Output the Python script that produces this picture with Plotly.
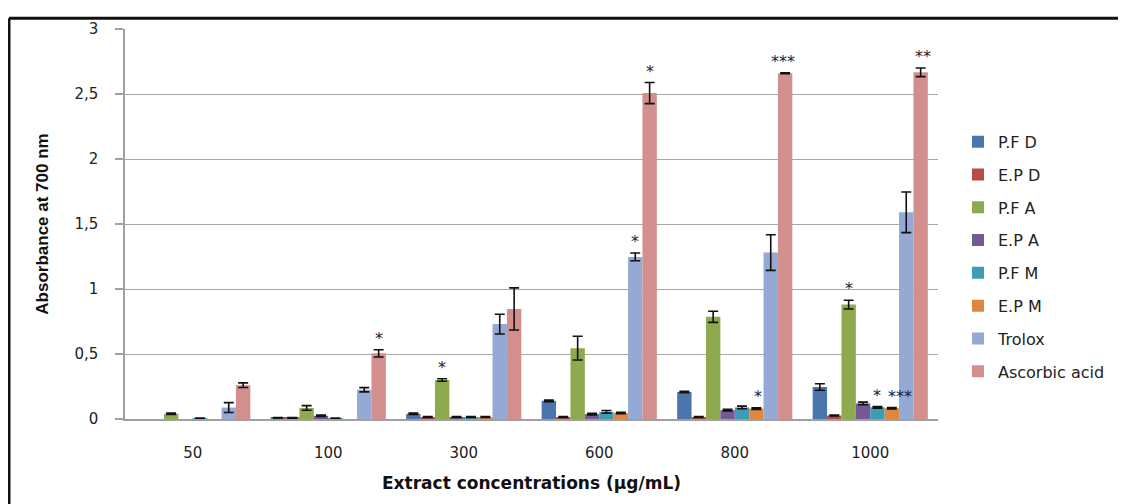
import plotly.graph_objects as go

categories = ["50", "100", "300", "600", "800", "1000"]
series_names = ["P.F D", "E.P D", "P.F A", "E.P A", "P.F M", "E.P M", "Trolox", "Ascorbic acid"]
colors = ["#4A76AC", "#B84B47", "#8DAA4F", "#735A95", "#3F9CB6", "#E0873F", "#94A9D3", "#D38F8E"]

# None = no visible bar in the original
pfd = [None, 0.008, 0.04, 0.14, 0.208, 0.246]
epd = [None, 0.008, 0.015, 0.015, 0.015, 0.027]
pfa = [0.04, 0.085, 0.30, 0.545, 0.786, 0.88]
epa = [None, 0.025, 0.015, 0.038, 0.068, 0.12]
pfm = [0.005, 0.005, 0.015, 0.055, 0.089, 0.09]
epm = [None, None, 0.015, 0.046, 0.08, 0.083]
trolox = [0.088, 0.225, 0.73, 1.247, 1.28, 1.59]
ascorbic = [0.26, 0.505, 0.847, 2.507, 2.66, 2.667]

pfd_err = [None, 0.004, 0.005, 0.006, 0.006, 0.025]
epd_err = [None, 0.004, 0.004, 0.004, 0.004, 0.004]
pfa_err = [0.005, 0.018, 0.01, 0.091, 0.043, 0.034]
epa_err = [None, 0.005, 0.004, 0.006, 0.006, 0.01]
pfm_err = [0.003, 0.003, 0.004, 0.01, 0.01, 0.006]
epm_err = [None, None, 0.004, 0.006, 0.006, 0.005]
trolox_err = [0.038, 0.016, 0.076, 0.03, 0.137, 0.156]
ascorbic_err = [0.018, 0.028, 0.162, 0.081, 0.004, 0.033]

values = [pfd, epd, pfa, epa, pfm, epm, trolox, ascorbic]
errors = [pfd_err, epd_err, pfa_err, epa_err, pfm_err, epm_err, trolox_err, ascorbic_err]

y_ticks = [0, 0.5, 1, 1.5, 2, 2.5, 3]
y_ticktext = ["0", "0,5", "1", "1,5", "2", "2,5", "3"]

# significance marks: (series index, category index, text, xshift)
stars = [
    (7, 1, "*", 0),
    (2, 2, "*", 0),
    (6, 3, "*", 0),
    (7, 3, "*", 0),
    (5, 4, "*", 2),
    (7, 4, "***", -2),
    (2, 5, "*", 0),
    (4, 5, "*", 0),
    (5, 5, "***", 8),
    (7, 5, "**", 2),
]

bargap = 0.15
n = len(series_names)

fig = go.Figure()
for i, name in enumerate(series_names):
    fig.add_trace(go.Bar(
        name=name, x=list(range(len(categories))), y=values[i],
        marker=dict(color=colors[i], line=dict(width=0)),
        error_y=dict(type="data", array=errors[i], visible=True,
                     color="#111111", thickness=1.6, width=5),
        legendgroup=name,
    ))

annotations = []
bw = (1 - bargap) / n
for si, ci, txt, xs in stars:
    xpos = ci - (1 - bargap) / 2 + (si + 0.5) * bw
    err = errors[si][ci] or 0
    annotations.append(dict(
        x=xpos, y=(values[si][ci] or 0) + err, xref="x", yref="y",
        text=txt, showarrow=False, yanchor="bottom", xshift=xs, yshift=0,
        font=dict(family="DejaVu Sans", size=16, color="#1a1a3a"),
    ))

# page body has an 8px margin, so the figure is laid out 8px smaller/offset
OFF = 8
W, H = 1126 - OFF, 504 - OFF
L, R, T, B = 125 - OFF, 938 - OFF, 24 - OFF, 419 - OFF

def px(xp):
    return (xp - OFF - L) / (R - L)

def py(yp):
    return (B - (yp - OFF)) / (B - T)

shapes = [
    dict(type="line", xref="paper", yref="paper", x0=px(9), x1=px(1130), y0=py(13), y1=py(13),
         line=dict(color="#111111", width=3)),
    dict(type="line", xref="paper", yref="paper", x0=px(9), x1=px(9), y0=py(13), y1=py(510),
         line=dict(color="#111111", width=3)),
]

fig.update_layout(
    width=W, height=H,
    margin=dict(l=L, r=W - R, t=T, b=H - B),
    paper_bgcolor="white", plot_bgcolor="white",
    barmode="group", bargap=bargap, bargroupgap=0,
    font=dict(family="DejaVu Sans", size=14, color="#222222"),
    xaxis=dict(
        tickmode="array", tickvals=list(range(len(categories))), ticktext=categories,
        range=[-0.5, len(categories) - 0.5],
        showline=True, linecolor="#A0A0A0", linewidth=2, ticks="",
        ticklabelstandoff=19,
        showgrid=False, zeroline=False,
        tickfont=dict(family="DejaVu Sans", size=15, color="#222222"),
        title=dict(text="<b>Extract concentrations (µg/mL)</b>", standoff=16,
                   font=dict(family="DejaVu Sans", size=17, color="#111111")),
    ),
    yaxis=dict(
        range=[0, 3], tickmode="array", tickvals=y_ticks, ticktext=y_ticktext,
        showline=True, linecolor="#A0A0A0", linewidth=1.5,
        ticks="outside", ticklen=8, tickcolor="#A0A0A0", tickwidth=1.5,
        ticklabelstandoff=14,
        showgrid=True, gridcolor="#A8A8A8", gridwidth=1.3, zeroline=False,
        tickfont=dict(family="DejaVu Sans", size=15, color="#222222"),
        title=dict(text="<b>Absorbance at 700 nm</b>", standoff=21,
                   font=dict(family="Liberation Sans Narrow, Liberation Sans, Arial", size=17, color="#111111")),
    ),
    legend=dict(
        x=px(958), y=py(121), xanchor="left", yanchor="top",
        font=dict(family="DejaVu Sans", size=16, color="#222222"),
        tracegroupgap=9, bgcolor="rgba(0,0,0,0)",
    ),
    annotations=annotations,
    shapes=shapes,
)

fig.write_html("out.html")
